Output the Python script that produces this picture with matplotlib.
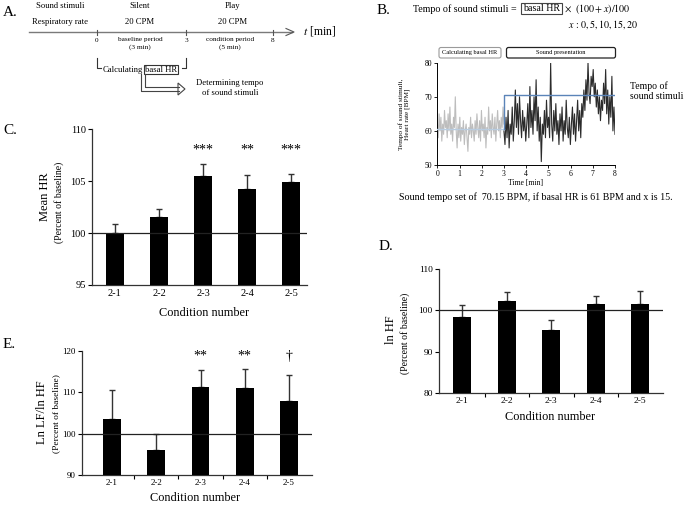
import numpy as np
import matplotlib
matplotlib.use("Agg")
import matplotlib.pyplot as plt
from matplotlib.patches import Rectangle, FancyBboxPatch, Polygon

plt.rcParams['font.family'] = ['Liberation Serif', 'DejaVu Serif']
plt.rcParams['mathtext.fontset'] = 'stix'

# ---------------- data ----------------
conditions = ["2-1", "2-2", "2-3", "2-4", "2-5"]

hr_mean = [100.05, 101.53, 105.55, 104.23, 104.94]
hr_err = [0.85, 0.77, 1.12, 1.37, 0.76]
hr_sig = ["", "", "***", "**", "***"]

hf_mean = [98.5, 102.25, 95.25, 101.5, 101.6]
hf_err = [2.7, 2.25, 2.45, 2.1, 3.0]

lfhf_mean = [103.5, 96.1, 111.2, 110.9, 107.9]
lfhf_err = [6.9, 3.8, 4.1, 4.7, 6.2]
lfhf_sig = ["", "", "**", "**", "\u2020"]

# example heart-rate trace (panel B)
hr_baseline = [63, 58, 65, 60, 64, 57, 62, 59, 66, 61, 63, 58, 65, 60, 67, 59, 62, 57, 64, 61,
               70, 60, 55, 62, 58, 64, 57, 61, 59, 63, 56, 60, 62, 58, 54, 61, 59, 64, 58, 62,
               60, 57, 63, 59, 65, 61, 58, 63, 57, 66, 60, 62, 58, 64, 55, 61, 59, 67, 60, 63,
               58, 65, 61, 59, 64, 57, 62, 66, 60, 63, 58, 64, 61, 67, 62]
hr_condition = [60, 56, 64, 58, 66, 55, 62, 59, 67, 57, 63,
                72, 61, 68, 59, 70, 63, 58, 66, 60, 64, 57,
                62, 68, 58, 73, 61, 66, 59, 70, 63, 75, 60,
                67, 57, 64, 51, 62, 59, 66, 58, 69, 61,
                64, 58, 80, 62, 57, 66, 60, 68, 59, 63, 56,
                65, 60, 67, 57, 63, 59, 69, 61, 58, 64,
                56, 62, 67, 59, 65, 57, 63, 69, 60, 66, 58,
                68, 64, 72, 66, 75, 69, 80, 71, 68, 76,
                73, 78, 70, 74, 67, 72, 65, 70, 63, 69, 66,
                74, 68, 78, 65, 72, 62, 70, 64, 76, 60, 67, 59]
basal_hr = 60.6
tempo = 70.5
baseline_end = 3
session_end = 8

W, H = 685, 505
fig = plt.figure(figsize=(W / 100, H / 100), dpi=100)


def px_axes(left, right, top, bottom):
    return fig.add_axes([left / W, 1 - bottom / H, (right - left) / W, (bottom - top) / H])


def bar_panel(ax, means, errs, ylim, yticks, xlim, mid_ticks, tick_fs):
    x = np.arange(len(conditions))
    ax.bar(x, np.array(means) - ylim[0], bottom=ylim[0], width=0.4, color='black', zorder=3)
    ax.errorbar(x, means, yerr=[np.zeros(len(errs)), errs], fmt='none', ecolor='#333333',
                elinewidth=1.0, capsize=2.2, capthick=1.0, zorder=2)
    ax.axhline(100, color='#222222', lw=0.9, zorder=4)
    ax.set_ylim(*ylim)
    ax.set_xlim(*xlim)
    ax.set_yticks(yticks)
    ax.set_xticks(x)
    ax.set_xticklabels(conditions, fontsize=tick_fs)
    ax.tick_params(axis='y', labelsize=tick_fs, direction='out', length=3, width=0.8, pad=1.5)
    ax.tick_params(axis='x', length=0, pad=3)
    if mid_ticks:
        ax.set_xticks(np.arange(len(conditions) - 1) + 0.5, minor=True)
        ax.tick_params(axis='x', which='minor', length=3, width=0.8, direction='out')
    for s in ['top', 'right']:
        ax.spines[s].set_visible(False)
    for s in ['left', 'bottom']:
        ax.spines[s].set_linewidth(0.9)
        ax.spines[s].set_color('#333333')


# ---------------- panel C ----------------
axC = px_axes(92, 307, 129.5, 285)
bar_panel(axC, hr_mean, hr_err, (95, 110), [95, 100, 105, 110], (-0.52, 4.36), False, 7.5)
for i, s in enumerate(hr_sig):
    if s:
        axC.text(i, 108.0, s, ha='center', va='center', fontsize=10)

# ---------------- panel D ----------------
axD = px_axes(439, 663, 269, 393.3)
bar_panel(axD, hf_mean, hf_err, (80, 110), [80, 90, 100, 110], (-0.525, 4.51), True, 6.8)

# ---------------- panel E ----------------
axE = px_axes(82, 312, 350.7, 475)
bar_panel(axE, lfhf_mean, lfhf_err, (90, 120), [90, 100, 110, 120], (-0.68, 4.52), True, 6.5)
for i, s in enumerate(lfhf_sig):
    if s:
        axE.text(i, 118.6, s, ha='center', va='center', fontsize=10)

# ---------------- panel B plot ----------------
axB = px_axes(437.3, 615, 62.7, 165)
tb = np.linspace(0, baseline_end, len(hr_baseline))
tc = np.linspace(baseline_end, session_end, len(hr_condition))
axB.plot(tb, hr_baseline, color='#bdbdbd', lw=0.8, zorder=2)
axB.plot(tc, hr_condition, color='#2b2b2b', lw=0.8, zorder=2)
axB.plot([0, baseline_end], [basal_hr, basal_hr], color='#b8cce0', lw=1.0, zorder=3)
axB.plot([baseline_end, baseline_end, session_end], [basal_hr, tempo, tempo], color='#5b84b8', lw=1.0, zorder=3)
axB.set_xlim(0, 8)
axB.set_ylim(50, 80)
axB.set_xticks(range(0, 9))
axB.set_yticks([50, 60, 70, 80])
axB.tick_params(labelsize=5.5, length=2, width=0.6, pad=1.5)
for s in ['top', 'right']:
    axB.spines[s].set_visible(False)
for s in ['left', 'bottom']:
    axB.spines[s].set_linewidth(0.7)

# ---------------- overlay for annotations ----------------
ov = fig.add_axes([0, 0, 1, 1], zorder=10)
ov.set_xlim(0, W)
ov.set_ylim(H, 0)
ov.axis('off')


def t(x, y, s, fs, ha='center', va='center', **kw):
    ov.text(x, y, s, fontsize=fs, ha=ha, va=va, **kw)


# panel letters
t(3, 13, "A.", 11, ha='left')
t(377, 10, "B.", 11, ha='left')
t(3, 131, "C.", 11, ha='left')
t(379, 247, "D.", 11, ha='left')
t(3, 345, "E.", 11, ha='left')

# ---- panel A ----
for x, s in [(60, "Sound stimuli"), (140, "Silent"), (233, "Play")]:
    t(x, 6, s, 6.2)
for x, s in [(60, "Respiratory rate"), (140, "20 CPM"), (233, "20 CPM")]:
    t(x, 22, s, 6.2)
ov.plot([29, 292], [32, 32], color='#7a7a7a', lw=1.0)
ov.plot([286, 294, 286], [28.5, 32, 35.5], color='#555555', lw=0.8)
t(303, 31.5, r"$t$ [min]", 8.5, ha='left')
for x, s in [(97, "0"), (186, "3"), (273, "8")]:
    ov.plot([x, x], [29.5, 34.5], color='#555555', lw=0.8)
    t(x, 40, s, 5.2)
t(140, 43.5, "baseline period\n(3 min)", 5.2, linespacing=1.3)
t(230, 43.5, "condition period\n(5 min)", 5.2, linespacing=1.3)
# bracket
ov.plot([97, 97, 101], [58, 68, 68], color='#333333', lw=0.8)
ov.plot([186, 186, 182], [58, 68, 68], color='#333333', lw=0.8)
t(143, 69.5, "Calculating", 6.2, ha='right')
ov.add_patch(Rectangle((144.5, 65), 33.5, 9, fill=False, ec='#333333', lw=0.8))
t(161.2, 69.5, "basal HR", 6.2)
# double-line arrow
ov.plot([141, 141, 179], [74, 91, 91], color='#444444', lw=0.8)
ov.plot([145, 145, 179], [74, 87, 87], color='#444444', lw=0.8)
ov.add_patch(Polygon([[178, 83], [185, 89], [178, 95]], closed=True, fill=False, ec='#444444', lw=0.8))
t(230, 88, "Determining tempo\nof sound stimuli", 6.2, linespacing=1.3)

# ---- panel B annotations ----
t(413, 9, "Tempo of sound stimuli =", 7.2, ha='left')
ov.add_patch(Rectangle((521, 2.5), 41, 11, fill=False, ec='#444444', lw=0.8))
t(541.5, 8.5, "basal HR", 7.2)
t(564, 9, r"$\times\ \ (100+x)/100$", 7.2, ha='left')
t(638, 25, r"$x\,:\,0,5,10,15,20$", 7.2, ha='right')

ov.add_patch(FancyBboxPatch((439, 47.5), 62, 10.5, boxstyle="round,pad=0,rounding_size=2",
                            fill=False, ec='#9a9a9a', lw=0.8))
t(470, 52.8, "Calculating basal HR", 4.6)
ov.add_patch(FancyBboxPatch((506.5, 47.5), 109, 10.5, boxstyle="round,pad=0,rounding_size=2",
                            fill=False, ec='#222222', lw=0.9))
t(561, 52.8, "Sound presentation", 4.6)
t(404, 114, "Tempo of sound stimuli,\nHeart rate [BPM]", 5.2, rotation=90, linespacing=1.1)
t(526, 183, "Time [min]", 5.5)
t(630, 91.5, "Tempo of\nsound stimuli", 7, ha='left', linespacing=1.15)
t(535.5, 197, "Sound tempo set of  70.15 BPM, if basal HR is 61 BPM and x is 15.", 7.2)

# ---- axis labels ----
t(45, 197, "Mean HR", 9, rotation=90)
t(59.5, 202, "(Percent of baseline)", 7, rotation=90)
t(204, 313, "Condition number", 8.8)

t(391, 330, "ln HF", 9, rotation=90)
t(405, 333, "(Percent of baseline)", 7, rotation=90)
t(550, 417, "Condition number", 8.8)

t(42, 412, "Ln LF/ln HF", 9, rotation=90)
t(56, 414, "(Percent of baseline)", 6.8, rotation=90)
t(195, 498, "Condition number", 8.8)

fig.savefig("out.png", dpi=100)
